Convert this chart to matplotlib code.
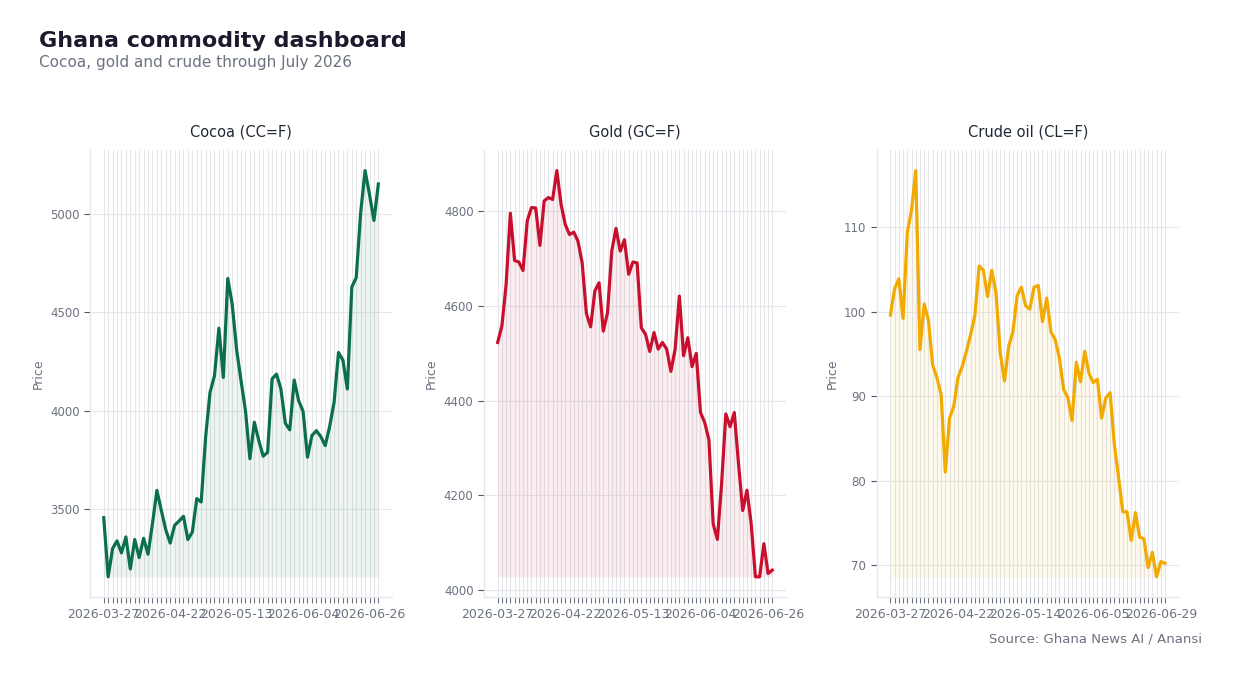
import matplotlib
matplotlib.use("Agg")
import matplotlib.pyplot as plt

# ---------------- data ----------------
cocoa_values = [3455, 3154, 3298, 3337, 3276, 3357, 3194, 3344, 3252, 3350,
                3269, 3425, 3594, 3492, 3394, 3326, 3416, 3438, 3462, 3344,
                3382, 3552, 3535, 3865, 4093, 4178, 4420, 4169, 4673, 4542,
                4310, 4152, 4000, 3755, 3941, 3848, 3768, 3788, 4161, 4186,
                4110, 3936, 3902, 4156, 4051, 3997, 3763, 3873, 3898, 3868,
                3822, 3919, 4042, 4296, 4257, 4110, 4629, 4677, 5007, 5222,
                5100, 4968, 5154]
cocoa_labels = ["2026-03-27", "2026-04-22", "2026-05-13", "2026-06-04", "2026-06-26"]

gold_values = [4523, 4558, 4646, 4796, 4696, 4693, 4675, 4780, 4808, 4807,
               4728, 4822, 4829, 4825, 4886, 4815, 4772, 4751, 4756, 4737,
               4691, 4584, 4556, 4632, 4649, 4547, 4586, 4716, 4764, 4716,
               4740, 4667, 4693, 4691, 4554, 4540, 4504, 4544, 4509, 4523,
               4509, 4462, 4509, 4621, 4495, 4533, 4472, 4500, 4375, 4354,
               4317, 4140, 4107, 4225, 4372, 4345, 4375, 4267, 4168, 4211,
               4140, 4028, 4028, 4098, 4035, 4042]
gold_labels = ["2026-03-27", "2026-04-22", "2026-05-13", "2026-06-04", "2026-06-26"]

crude_values = [99.6, 102.7, 103.9, 99.2, 109.4, 112.0, 116.7, 95.5, 100.9, 99.0,
                93.7, 92.2, 90.2, 81.0, 87.4, 88.8, 92.2, 93.5, 95.3, 97.3,
                99.6, 105.4, 104.9, 101.8, 104.9, 102.2, 95.1, 91.8, 95.9, 97.6,
                101.9, 102.9, 100.7, 100.3, 102.9, 103.1, 98.8, 101.6, 97.6, 96.7,
                94.5, 90.8, 89.8, 87.1, 94.0, 91.7, 95.3, 92.7, 91.6, 92.0,
                87.4, 89.8, 90.4, 84.3, 80.4, 76.3, 76.3, 72.9, 76.2, 73.3,
                73.1, 69.7, 71.5, 68.6, 70.4, 70.2]
crude_labels = ["2026-03-27", "2026-04-22", "2026-05-14", "2026-06-05", "2026-06-29"]

titles = ["Cocoa (CC=F)", "Gold (GC=F)", "Crude oil (CL=F)"]
colors = ["#0b6e4f", "#c8102e", "#f2a900"]

# ---------------- figure ----------------
plt.rcParams['font.family'] = ['DejaVu Sans']
fig = plt.figure(figsize=(12.33, 6.77), dpi=100)
fig.patch.set_facecolor("white")

grid_c = "#e5e7eb"
tick_c = "#6b7280"

lefts = [0.073, 0.3925, 0.711]
series = [(cocoa_values, cocoa_labels), (gold_values, gold_labels), (crude_values, crude_labels)]

for left, (vals, labs), title, col in zip(lefts, series, titles, colors):
    ax = fig.add_axes([left, 0.118, 0.245, 0.660])
    n = len(vals)
    x = list(range(n))
    ax.plot(x, vals, color=col, lw=2.3, zorder=3)
    ax.fill_between(x, vals, min(vals), color=col, alpha=0.07, lw=0, zorder=2)
    step = n // 4
    ax.set_xticks(x)
    xl = [""] * n
    for k, lab in enumerate(labs):
        xl[k * step] = lab
    ax.set_xticklabels(xl)
    ax.grid(True, color=grid_c, lw=0.8, zorder=0)
    ax.set_axisbelow(True)
    for s in ["top", "right"]:
        ax.spines[s].set_visible(False)
    for s in ["left", "bottom"]:
        ax.spines[s].set_color(grid_c)
        ax.spines[s].set_linewidth(1.0)
    ax.tick_params(axis="x", colors="#6b7280", labelcolor=tick_c, labelsize=9, length=4, width=0.8)
    ax.tick_params(axis="y", colors="#4b5563", labelcolor=tick_c, labelsize=8.5, length=4, width=0.8)
    ax.set_ylabel("Price", color=tick_c, fontsize=9)
    ax.set_title(title, color="#1f2937", fontsize=10.5, pad=10)

fig.text(0.0316, 0.94, "Ghana commodity dashboard", fontsize=16, fontweight="bold",
         color="#1a1a2e", va="center", ha="left")
fig.text(0.0316, 0.907, "Cocoa, gold and crude through July 2026", fontsize=11,
         color="#6b7280", va="center", ha="left")
fig.text(0.975, 0.056, "Source: Ghana News AI / Anansi", fontsize=9.5,
         color="#6b7280", va="center", ha="right")

fig.savefig("out.png", dpi=100, facecolor="white")
